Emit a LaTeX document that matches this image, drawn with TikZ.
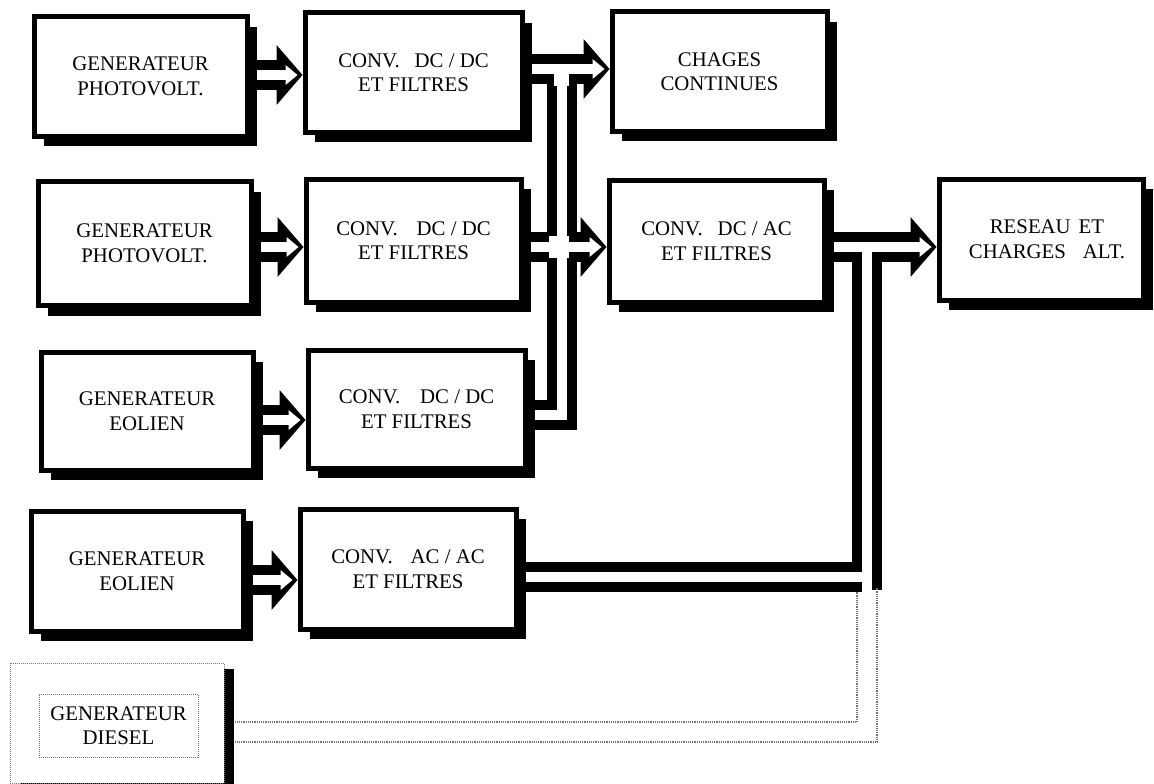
\documentclass[tikz,border=0pt]{standalone}
\usepackage{fontspec}
\setmainfont{Liberation Serif}
\usetikzlibrary{calc,shadows}
\pgfdeclarelayer{bg}
\pgfsetlayers{bg,main}
\newcommand\boxfont{\fontsize{20.8}{24.5}\selectfont}
\newcommand\headB[1]{\fill[black] ($(#1)+(-26,-30)$) -- (#1) -- ($(#1)+(-26,30)$) -- cycle;}
\newcommand\headW[1]{\fill[white] ($(#1)+(-17,-10)$) -- ($(#1)+(-5,0)$) -- ($(#1)+(-17,10)$) -- cycle;}
\newcommand\fatarrow[2]{%
  \draw[pipe] (#1) -- ($(#2)+(-20,0)$);
  \headB{#2}
  \draw[chan] (#1) -- ($(#2)+(-16,0)$);
  \headW{#2}}
\begin{document}
\begin{tikzpicture}[x=1pt,y=-1pt,
  box/.style={draw=black,line width=5pt,fill=white,inner sep=0pt,align=center,font=\boxfont,
    drop shadow={shadow xshift=10pt,shadow yshift=-10pt,fill=black,opacity=1}},
  dbox/.style={draw=black!55,densely dotted,line width=1pt,fill=white,inner sep=0pt,align=center,font=\boxfont},
  pipe/.style={draw=black,line width=30pt},
  chan/.style={draw=white,line width=10pt},
  dline/.style={draw=black!55,densely dotted,line width=1.2pt}]
\useasboundingbox (0,0) rectangle (1154,784);
\clip (0,0) rectangle (1154,784);

% boxes
\node[box,minimum width=213pt,minimum height=119pt] (pv1) at (140.5,76.5) {GENERATEUR\\PHOTOVOLT.};
\node[box,minimum width=217pt,minimum height=119pt] (conv1) at (413.5,72.5) {CONV.\hspace{15pt}DC / DC\\ET FILTRES};
\node[box,minimum width=215pt,minimum height=119pt] (chg) at (719.5,71.5) {CHAGES\\CONTINUES};
\node[box,minimum width=213pt,minimum height=124pt] (pv2) at (144.5,243.5) {GENERATEUR\\PHOTOVOLT.};
\node[box,minimum width=215pt,minimum height=123pt] (conv2) at (413.5,240.5) {CONV.\hspace{19pt}DC / DC\\ET FILTRES};
\node[box,minimum width=215pt,minimum height=122pt] (dcac) at (716.5,241) {CONV.\hspace{15pt}DC / AC\\ET FILTRES};
\node[box,minimum width=204pt,minimum height=121pt] (res) at (1041,239.5) {\hspace*{12pt}RESEAU\hspace{8pt}ET\\\hspace*{12pt}CHARGES\hspace{17pt}ALT.};
\node[box,minimum width=212pt,minimum height=118pt] (wind1) at (147,411) {GENERATEUR\\EOLIEN};
\node[box,minimum width=217pt,minimum height=118pt] (conv3) at (416.5,409) {CONV.\hspace{20pt}DC / DC\\ET FILTRES};
\node[box,minimum width=212pt,minimum height=120pt] (wind2) at (137,571) {GENERATEUR\\EOLIEN};
\node[box,minimum width=216pt,minimum height=120pt] (conv4) at (408,569) {CONV.\hspace{18pt}AC / AC\\ET FILTRES};
\node[dbox,minimum width=214pt,minimum height=120pt,
  drop shadow={shadow xshift=10pt,shadow yshift=-6pt,fill=black,opacity=1}] (diesel) at (117,723) {};
\node[dbox,minimum width=159pt,minimum height=63pt] (dtext) at (118.5,725.5) {GENERATEUR\\DIESEL};

% levels
\coordinate (r1a) at (0,75);
\coordinate (r1b) at (0,69);
\coordinate (r2p) at (0,247);
\coordinate (r2) at (0,247);
\coordinate (r3) at (0,420);
\coordinate (b3) at (0,415);
\coordinate (r4p) at (0,580);
\coordinate (r4) at (0,577);
\coordinate (bx) at (562,0);
\coordinate (ax) at (867,0);
\coordinate (abot) at (867,590);
\coordinate (dwl) at (857,592);
\coordinate (dwr) at (877,588);

\begin{pgfonlayer}{bg}
% generator -> converter arrows
\fatarrow{pv1.east |- r1a}{conv1.west |- r1a}
\fatarrow{pv2.east |- r2p}{conv2.west |- r2p}
\fatarrow{wind1.east |- r3}{conv3.west |- r3}
\fatarrow{wind2.east |- r4p}{conv4.west |- r4p}
% DC bus (black walls)
\draw[pipe] (conv1.east |- r1b) -- ($(chg.west |- r1b)+(-20,0)$);
\headB{chg.west |- r1b}
\draw[pipe,line join=miter] (conv3.east |- b3) -- (bx |- b3) -- (bx |- r1b);
\draw[pipe] (conv2.east |- r2) -- ($(dcac.west |- r2)+(-20,0)$);
\headB{dcac.west |- r2}
% AC bus (black walls)
\draw[pipe] (dcac.east |- r2) -- ($(res.west |- r2)+(-20,0)$);
\headB{res.west |- r2}
\draw[pipe] (conv4.east |- r4) -- (ax |- r4);
\draw[pipe] (ax |- r2) -- (abot);
% channels
\draw[chan] (conv1.east |- r1b) -- ($(chg.west |- r1b)+(-16,0)$);
\headW{chg.west |- r1b}
\draw[chan,line join=miter] (conv3.east |- b3) -- (bx |- b3) -- (bx |- r1b);
\draw[chan] (conv2.east |- r2) -- ($(dcac.west |- r2)+(-16,0)$);
\headW{dcac.west |- r2}
\draw[chan] (dcac.east |- r2) -- ($(res.west |- r2)+(-16,0)$);
\headW{res.west |- r2}
\draw[chan] (conv4.east |- r4) -- (ax |- r4);
\draw[chan] (ax |- r2) -- ($(abot)+(0,4)$);
% junction openings
\fill[white] (554,72) rectangle (569,86);
\fill[white] (549,236) rectangle (569,258);
\end{pgfonlayer}

% diesel dotted link
\draw[dline] ($(diesel.east |- 0,722)+(10,0)$) -| (dwl);
\draw[dline] ($(diesel.east |- 0,742)+(10,0)$) -| (dwr);
\end{tikzpicture}
\end{document}
